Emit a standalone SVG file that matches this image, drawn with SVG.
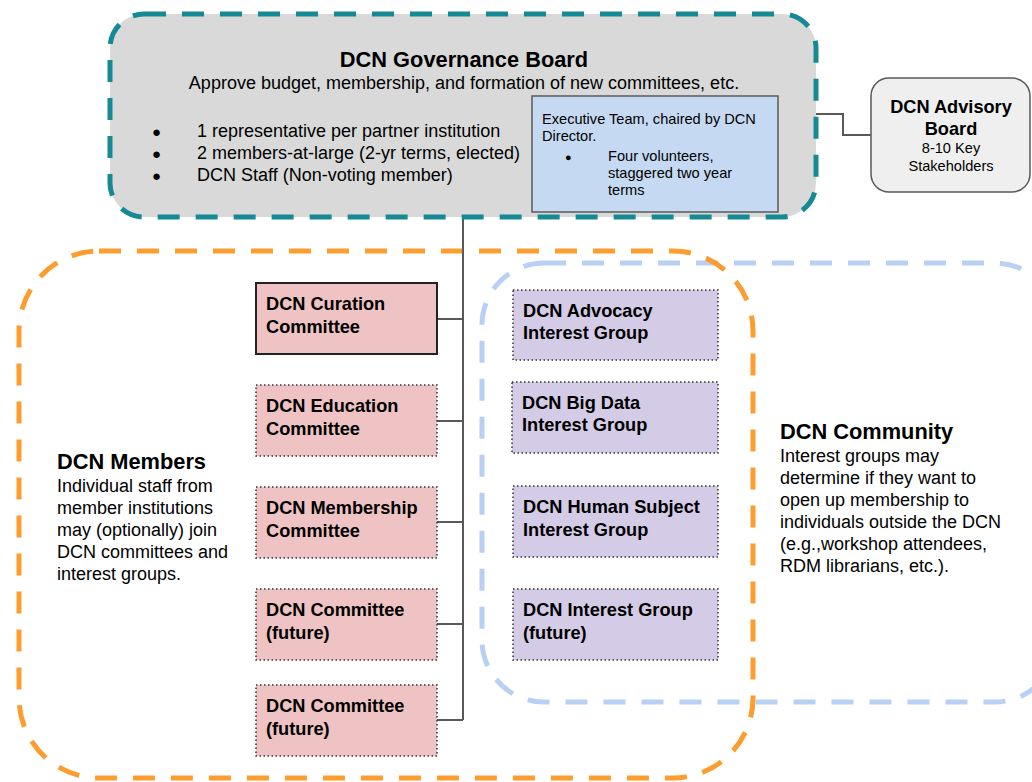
<svg xmlns="http://www.w3.org/2000/svg" width="1032" height="782" viewBox="0 0 1032 782">
<defs>
<style>
text{font-family:"Liberation Sans",Arial,sans-serif;fill:#000}
.b{font-weight:bold}
.conn{fill:none;stroke:#595959;stroke-width:2}
.com{fill:#efc3c3;stroke:#333;stroke-width:1.5;stroke-dasharray:1.5 2.5}
.ig{fill:#d4cce7;stroke:#333;stroke-width:1.5;stroke-dasharray:1.5 2.5}
.lbl{font-size:18.2px;font-weight:bold}
.body{font-size:18px}
.head{font-size:21.8px;font-weight:bold}
.sm{font-size:14.6px}
.dash{fill:none;stroke-width:5;stroke-dasharray:22 16}
</style>
</defs>
<rect width="1032" height="782" fill="#fff"/>
<g id="community">
<rect class="dash" x="482" y="263" width="575" height="439" rx="62" stroke="#b9d0f5"/>
<text x="780" y="439" class="head">DCN Community</text>
<text class="body"><tspan x="780" y="462">Interest groups may</tspan><tspan x="780" y="484">determine if they want to</tspan><tspan x="780" y="506">open up membership to</tspan><tspan x="780" y="528">individuals outside the DCN</tspan><tspan x="780" y="550">(e.g.,workshop attendees,</tspan><tspan x="780" y="572">RDM librarians, etc.).</tspan></text>
</g>
<g id="members">
<rect class="dash" x="19" y="251" width="734" height="527" rx="80" stroke="#fb9d2f"/>
<text x="57" y="469" class="head">DCN Members</text>
<text class="body"><tspan x="57" y="492">Individual staff from</tspan><tspan x="57" y="514">member institutions</tspan><tspan x="57" y="536">may (optionally) join</tspan><tspan x="57" y="558">DCN committees and</tspan><tspan x="57" y="580">interest groups.</tspan></text>
</g>
<g id="connectors">
<path class="conn" d="M463 217V720M437 319H463M437 421H463M437 522H463M437 624H463M437 720H463"/>
<path class="conn" d="M816 114H843V135H871"/>
</g>
<g id="governance-board">
<rect class="dash" x="110" y="14" width="706" height="203" rx="34" fill="#d9d9d9" stroke="#168a94" style="fill:#d9d9d9"/>
<text x="464" y="67" class="head" text-anchor="middle">DCN Governance Board</text>
<text x="464" y="89" class="body" text-anchor="middle">Approve budget, membership, and formation of new committees, etc.</text>
<g class="body">
<text x="152" y="137" font-size="15">●</text><text x="197" y="137">1 representative per partner institution</text>
<text x="152" y="159" font-size="15">●</text><text x="197" y="159">2 members-at-large (2-yr terms, elected)</text>
<text x="152" y="181" font-size="15">●</text><text x="197" y="181">DCN Staff (Non-voting member)</text>
</g>
</g>
<g id="executive-team">
<rect x="532" y="96" width="246" height="116" fill="#c6d9f2" stroke="#595959" stroke-width="1.5"/>
<text class="sm"><tspan x="542" y="124">Executive Team, chaired by DCN</tspan><tspan x="542" y="141">Director.</tspan></text>
<text x="565" y="161" font-size="11">●</text>
<text class="sm"><tspan x="608" y="161">Four volunteers,</tspan><tspan x="608" y="178">staggered two year</tspan><tspan x="608" y="195">terms</tspan></text>
</g>
<g id="advisory-board">
<rect x="871" y="78" width="159" height="114" rx="18" fill="#efefef" stroke="#595959" stroke-width="1.5"/>
<text x="951" y="113" class="lbl" text-anchor="middle">DCN Advisory</text>
<text x="951" y="135" class="lbl" text-anchor="middle">Board</text>
<text x="951" y="153" class="sm" text-anchor="middle">8-10 Key</text>
<text x="951" y="171" class="sm" text-anchor="middle">Stakeholders</text>
</g>
<g id="curation-committee">
<rect x="256" y="283" width="181" height="71" fill="#efc3c3" stroke="#222" stroke-width="2"/>
<text class="lbl"><tspan x="266" y="310">DCN Curation</tspan><tspan x="266" y="333">Committee</tspan></text>
</g>
<g id="education-committee">
<rect class="com" x="256" y="385" width="181" height="71"/>
<text class="lbl"><tspan x="266" y="412">DCN Education</tspan><tspan x="266" y="435">Committee</tspan></text>
</g>
<g id="membership-committee">
<rect class="com" x="256" y="487" width="181" height="71"/>
<text class="lbl"><tspan x="266" y="514">DCN Membership</tspan><tspan x="266" y="537">Committee</tspan></text>
</g>
<g id="future-committee-1">
<rect class="com" x="256" y="589" width="181" height="71"/>
<text class="lbl"><tspan x="266" y="616">DCN Committee</tspan><tspan x="266" y="639">(future)</tspan></text>
</g>
<g id="future-committee-2">
<rect class="com" x="256" y="685" width="181" height="71"/>
<text class="lbl"><tspan x="266" y="712">DCN Committee</tspan><tspan x="266" y="735">(future)</tspan></text>
</g>
<g id="advocacy-group">
<rect class="ig" x="513" y="290" width="205" height="70"/>
<text class="lbl"><tspan x="523" y="317">DCN Advocacy</tspan><tspan x="523" y="339">Interest Group</tspan></text>
</g>
<g id="bigdata-group">
<rect class="ig" x="512" y="382" width="206" height="71"/>
<text class="lbl"><tspan x="522" y="409">DCN Big Data</tspan><tspan x="522" y="431">Interest Group</tspan></text>
</g>
<g id="humansubject-group">
<rect class="ig" x="513" y="486" width="205" height="71"/>
<text class="lbl"><tspan x="523" y="513">DCN Human Subject</tspan><tspan x="523" y="536">Interest Group</tspan></text>
</g>
<g id="future-group">
<rect class="ig" x="513" y="589" width="205" height="71"/>
<text class="lbl"><tspan x="523" y="616">DCN Interest Group</tspan><tspan x="523" y="639">(future)</tspan></text>
</g>
</svg>
